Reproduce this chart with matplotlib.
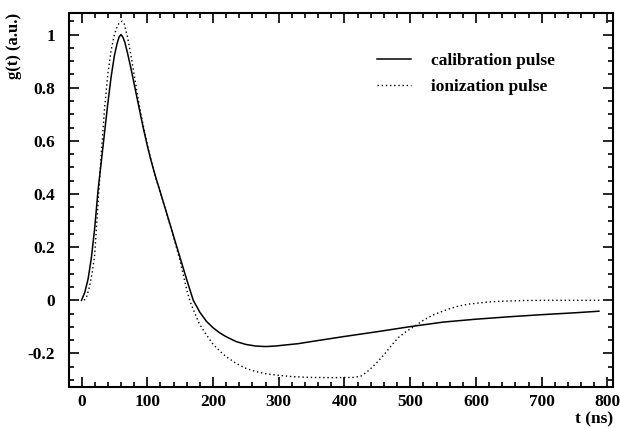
import numpy as np
import matplotlib
matplotlib.use('Agg')
import matplotlib.pyplot as plt
from matplotlib.ticker import MultipleLocator, FuncFormatter

# calibration pulse (solid)
t_cal = [0, 5, 10, 15, 20, 25, 30, 35, 40, 45, 50, 54, 57, 60, 63, 66, 70, 75, 80,
         85, 90, 95, 100, 105, 110, 115, 120, 130, 140, 150, 160, 170, 180, 190,
         200, 210, 220, 235, 250, 265, 280, 295, 310, 330, 350, 400, 450, 500,
         550, 600, 650, 700, 750, 787]
g_cal = [0.0, 0.03, 0.08, 0.16, 0.27, 0.41, 0.52, 0.63, 0.74, 0.84, 0.92, 0.965,
         0.99, 1.0, 0.99, 0.97, 0.93, 0.875, 0.815, 0.755, 0.695, 0.637, 0.583,
         0.533, 0.488, 0.446, 0.406, 0.324, 0.242, 0.16, 0.078, 0.0, -0.045,
         -0.079, -0.103, -0.122, -0.137, -0.155, -0.166, -0.172, -0.174, -0.172,
         -0.168, -0.163, -0.155, -0.136, -0.118, -0.099, -0.082, -0.071, -0.062,
         -0.054, -0.047, -0.041]

# ionization pulse (dotted)
t_ion = [4, 8, 12, 16, 20, 25, 30, 35, 40, 45, 50, 55, 59, 62, 65, 70, 75, 80, 85,
         90, 100, 110, 120, 130, 140, 150, 160, 165, 170, 179, 190, 200, 210, 220,
         235, 250, 265, 280, 295, 320, 346, 380, 415, 425, 433, 442, 452, 462, 472,
         482, 495, 507, 520, 533, 543, 558, 573, 590, 608, 625, 644, 670, 700,
         750, 790]
g_ion = [0.0, 0.015, 0.05, 0.1, 0.17, 0.36, 0.55, 0.72, 0.85, 0.94, 1.0, 1.035,
         1.048, 1.05, 1.04, 0.99, 0.925, 0.85, 0.775, 0.705, 0.585, 0.485, 0.405,
         0.323, 0.238, 0.148, 0.04, -0.003, -0.035, -0.087, -0.13, -0.165, -0.19,
         -0.212, -0.237, -0.256, -0.268, -0.276, -0.281, -0.287, -0.29, -0.291,
         -0.29, -0.285, -0.272, -0.252, -0.227, -0.199, -0.168, -0.14, -0.115,
         -0.097, -0.075, -0.057, -0.047, -0.033, -0.022, -0.014, -0.009, -0.005,
         -0.003, -0.001, 0.0, 0.0, 0.0]

plt.rcParams['font.family'] = 'Liberation Serif'
plt.rcParams['font.weight'] = 'bold'

fig = plt.figure(figsize=(6.2, 4.28), dpi=100)
ax = fig.add_axes([0.111, 0.0965, 0.878, 0.8725])

ax.plot(t_cal, g_cal, '-', color='black', linewidth=1.1, label='calibration pulse')
ax.plot(t_ion, g_ion, color='black', linewidth=1.0, linestyle=(0, (1, 2)),
        label='ionization pulse')

ax.set_xlim(-19.3, 808.7)
ax.set_ylim(-0.325, 1.08)

ax.xaxis.set_major_locator(MultipleLocator(100))
ax.xaxis.set_minor_locator(MultipleLocator(20))
ax.yaxis.set_major_locator(MultipleLocator(0.2))
ax.yaxis.set_minor_locator(MultipleLocator(0.05))
ax.yaxis.set_major_formatter(FuncFormatter(lambda v, p: '%g' % round(v, 2)))

ax.tick_params(which='both', direction='in', top=True, right=True, width=1.2)
ax.tick_params(which='major', length=7.5, labelsize=12.5)
ax.tick_params(axis='x', which='major', pad=5)
ax.tick_params(axis='y', which='major', pad=10)
ax.tick_params(which='minor', length=3.8)
for s in ax.spines.values():
    s.set_linewidth(1.5)

ax.set_xlabel('t (ns)', fontsize=12.5, fontweight='bold', ha='right')
ax.xaxis.set_label_coords(1.0, -0.065)
ax.set_ylabel('g(t) (a.u.)', fontsize=12, fontweight='bold', ha='right')
ax.yaxis.set_label_coords(-0.086, 1.0)

leg = ax.legend(loc='upper left', bbox_to_anchor=(377 / 620, 1 - 53 / 428),
                bbox_transform=fig.transFigure, frameon=False,
                borderpad=0, borderaxespad=0,
                prop={'family': 'Liberation Serif', 'weight': 'bold', 'size': 12.5},
                handlelength=1.95, handletextpad=1.15, labelspacing=0.55)

fig.savefig('out.png', dpi=100)
